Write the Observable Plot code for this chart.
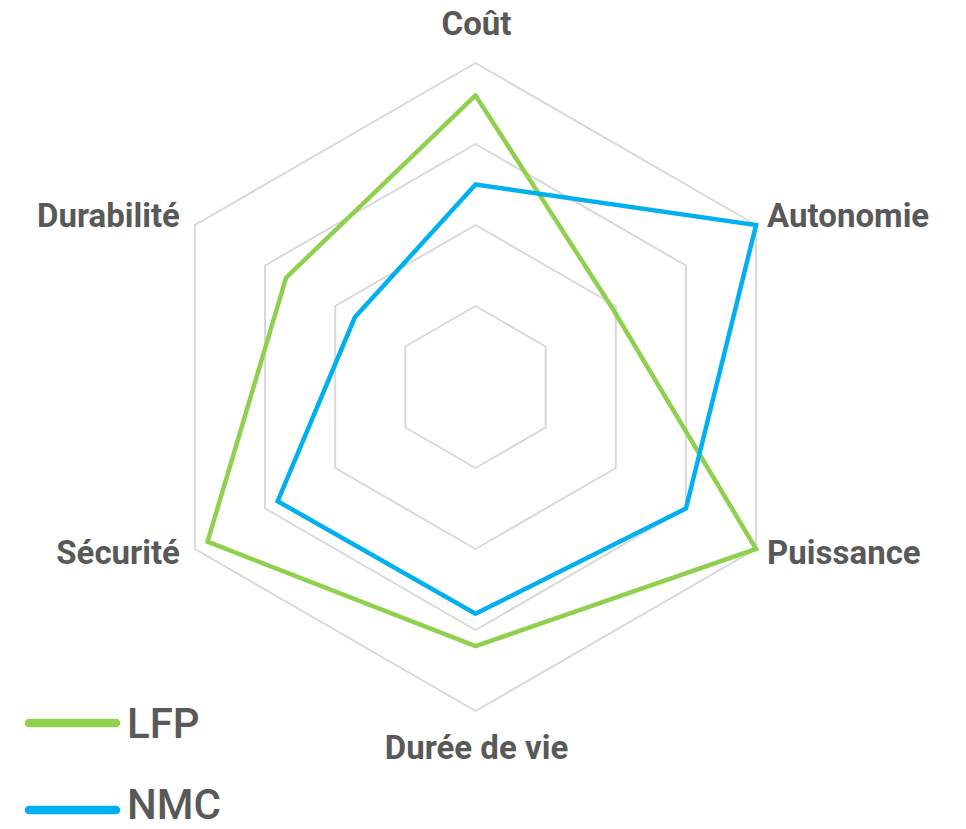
<!DOCTYPE html>
<html>
<head>
<meta charset="utf-8">
<script src="https://cdn.jsdelivr.net/npm/d3@7"></script>
<script src="https://cdn.jsdelivr.net/npm/@observablehq/plot@0.6"></script>
<style>
  html, body { margin: 0; padding: 0; background: #fff; }
  #wrap { position: relative; width: 966px; height: 829px; overflow: hidden; }
  #legend { position: absolute; left: 0; top: 0; pointer-events: none; }
</style>
</head>
<body>
<div id="wrap"></div>
<script>
// ---- Data ----
const categories = ["Coût", "Autonomie", "Puissance", "Durée de vie", "Sécurité", "Durabilité"];
const seriesNames = ["LFP", "NMC"];
const lfpValues = [3.6, 1.95, 4.0, 3.2, 3.82, 2.7];
const nmcValues = [2.5, 4.0, 3.0, 2.8, 2.82, 1.72];
const gridLevels = [1, 2, 3, 4];
const seriesColors = ["#8fd14f", "#00b0f0"];

// ---- Layout ----
const W = 966, H = 829;
const cx = 475, cy = 386.5, R = 324;
const maxV = 4;

const angle = i => (i * 2 * Math.PI) / categories.length;
const px = (v, i) => v * Math.sin(angle(i));
const py = (v, i) => v * Math.cos(angle(i));

const gridData = gridLevels.flatMap(level =>
  [...categories, categories[0]].map((c, k) => {
    const i = k % categories.length;
    return { level, x: px(level, i), y: py(level, i) };
  })
);

const seriesValues = [lfpValues, nmcValues];
const seriesData = seriesNames.flatMap((s, si) =>
  [...categories, categories[0]].map((c, k) => {
    const i = k % categories.length;
    const v = seriesValues[si][i];
    return { series: s, x: px(v, i), y: py(v, i) };
  })
);

const labelData = categories.map((c, i) => ({ label: c, i, x: px(maxV, i), y: py(maxV, i) }));

const labelMarks = labelData.map(d => {
  const s = Math.sin(angle(d.i)), co = Math.cos(angle(d.i));
  let anchor, dx, dy;
  if (Math.abs(s) < 0.01) {
    anchor = "middle"; dx = 1; dy = co > 0 ? -39 : 37;
  } else {
    anchor = s > 0 ? "start" : "end";
    dx = s > 0 ? 11 : -15;
    dy = co > 0 ? -8.5 : 4.5;
  }
  return Plot.text([d], {
    x: "x", y: "y", text: "label",
    textAnchor: anchor, dx, dy,
    fill: "#595959", fontSize: 33, fontWeight: 700,
    fontFamily: "Roboto", letterSpacing: "2.4px"
  });
});

const chart = Plot.plot({
  width: W, height: H, margin: 0,
  x: { domain: [-maxV, maxV], range: [cx - R, cx + R], axis: null },
  y: { domain: [-maxV, maxV], range: [cy + R, cy - R], axis: null },
  color: { domain: seriesNames, range: seriesColors },
  style: { background: "#fff", fontFamily: "Roboto", overflow: "visible" },
  marks: [
    Plot.line(gridData, { x: "x", y: "y", z: "level", stroke: "#d9d9d9", strokeWidth: 2 }),
    Plot.line(seriesData, { x: "x", y: "y", z: "series", stroke: "series", strokeWidth: 4.5, strokeLinejoin: "miter", strokeMiterlimit: 10 }),
    ...labelMarks
  ]
});

const wrap = document.getElementById("wrap");
wrap.appendChild(chart);

// ---- Legend (overlay) ----
const legend = d3.select(wrap).append("svg")
  .attr("id", "legend").attr("width", W).attr("height", H);
const legendRows = [
  { name: seriesNames[0], color: seriesColors[0], y: 723, base: 738 },
  { name: seriesNames[1], color: seriesColors[1], y: 810, base: 819 }
];
legendRows.forEach(r => {
  legend.append("line")
    .attr("x1", 29).attr("x2", 116).attr("y1", r.y).attr("y2", r.y)
    .attr("stroke", r.color).attr("stroke-width", 8.5).attr("stroke-linecap", "round");
  legend.append("text")
    .attr("x", 127).attr("y", r.base)
    .attr("fill", "#595959")
    .attr("font-family", "Roboto").attr("font-weight", 500).attr("font-size", 42)
    .text(r.name);
});
</script>
</body>
</html>
